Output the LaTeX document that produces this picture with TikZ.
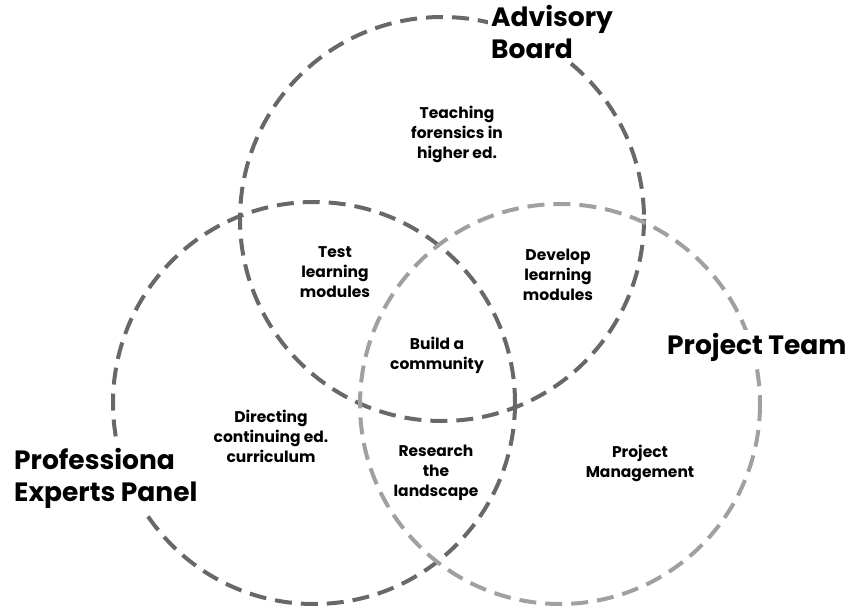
\documentclass[tikz,border=0pt]{standalone}
\usepackage{fontspec}
\setmainfont{Poppins}
\definecolor{darkc}{HTML}{686868}
\definecolor{lightc}{HTML}{A0A0A0}
\begin{document}
\begin{tikzpicture}[x=1pt,y=-1pt,
  ring/.style={line width=4pt, dash pattern=on 17pt off 9pt},
  small/.style={font=\fontsize{15.5}{20}\selectfont\bfseries, align=center, inner sep=0pt},
  big/.style={font=\fontsize{26.5}{32}\selectfont\bfseries, fill=white, inner sep=3pt}]
\useasboundingbox (0,0) rectangle (848,610);
\draw[ring, darkc] (442,219) circle[radius=202];
\draw[ring, darkc] (314,403) circle[radius=201];
\draw[ring, lightc] (560,404) circle[radius=200];
\node[big, align=left, anchor=north west] (adv) at (488,2) {Advisory\\Board};
\node[big, anchor=west] (pt) at (664,347) {Project Team};
\node[big, align=left, anchor=north west] (pep) at (11,445) {Professiona\\Experts Panel};
\node[small] (teach) at (457,134) {Teaching\\forensics in\\higher ed.};
\node[small] (test) at (335,272) {Test\\learning\\modules};
\node[small] (dev) at (558,275) {Develop\\learning\\modules};
\node[small] (build) at (437,355) {Build a\\community};
\node[small] (dir) at (271,436) {Directing\\continuing ed.\\curriculum};
\node[small] (res) at (436,473) {Research\\the\\landscape};
\node[small] (pm) at (640,463) {Project\\Management};
\end{tikzpicture}
\end{document}
